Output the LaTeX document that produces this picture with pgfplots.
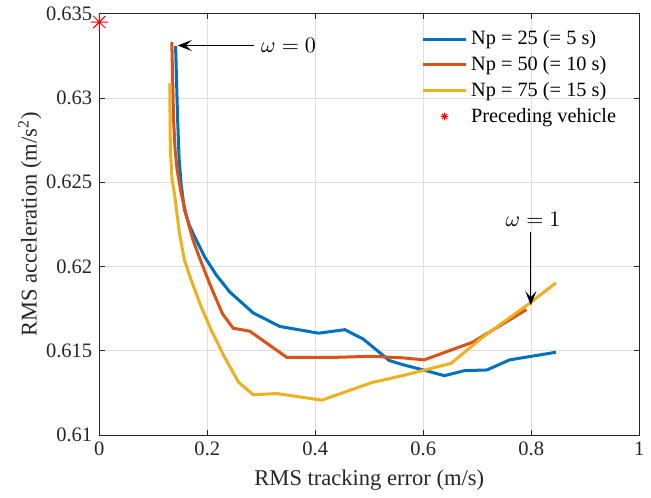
\documentclass[border=0pt]{standalone}
\usepackage{fontspec}
\setmainfont{Liberation Serif}
\usepackage{pgfplots}
\pgfplotsset{compat=1.18}
\usetikzlibrary{arrows.meta}
\definecolor{mblue}{HTML}{0072BD}
\definecolor{mred}{HTML}{D95319}
\definecolor{myellow}{HTML}{EDB120}
\definecolor{maxis}{HTML}{262626}
\definecolor{mgrid}{HTML}{DFDFDF}

% MATLAB-style 8-armed asterisk
\pgfdeclareplotmark{mstar}{%
  \pgfpathmoveto{\pgfqpoint{-\pgfplotmarksize}{0pt}}\pgfpathlineto{\pgfqpoint{\pgfplotmarksize}{0pt}}%
  \pgfpathmoveto{\pgfqpoint{0pt}{-\pgfplotmarksize}}\pgfpathlineto{\pgfqpoint{0pt}{\pgfplotmarksize}}%
  \pgfpathmoveto{\pgfqpoint{-.7071\pgfplotmarksize}{-.7071\pgfplotmarksize}}\pgfpathlineto{\pgfqpoint{.7071\pgfplotmarksize}{.7071\pgfplotmarksize}}%
  \pgfpathmoveto{\pgfqpoint{-.7071\pgfplotmarksize}{.7071\pgfplotmarksize}}\pgfpathlineto{\pgfqpoint{.7071\pgfplotmarksize}{-.7071\pgfplotmarksize}}%
  \pgfusepathqstroke}

\tikzset{annarrow/.style={-{Stealth[length=7pt,width=5.5pt,inset=3pt]}, line width=0.5pt}}

\begin{document}
\begin{tikzpicture}
  \begin{axis}[
      scale only axis,
      width=268.4pt, height=209.5pt,
      xmin=0, xmax=1, ymin=0.61, ymax=0.635,
      xtick={0,0.2,0.4,0.6,0.8,1},
      ytick={0.61,0.615,0.62,0.625,0.63,0.635},
      scaled x ticks=false, scaled y ticks=false,
      yticklabel style={/pgf/number format/fixed, /pgf/number format/precision=3},
      /pgf/number format/assume math mode=true,
      tick label style={font=\fontsize{10.2}{12}\selectfont, text=maxis},
      label style={font=\fontsize{11.2}{13}\selectfont, text=maxis},
      xlabel={RMS tracking error (m/s)},
      ylabel={RMS acceleration (m/s\textsuperscript{2})},
      ylabel style={yshift=-4.5pt},
      grid=major,
      grid style={mgrid, line width=0.4pt},
      axis line style={maxis, line width=0.4pt},
      tick style={maxis, line width=0.4pt},
      major tick length=2.7pt,
      tick align=inside,
      clip=false,
      every axis plot/.append style={line width=1.5pt},
      legend style={
        at={(0.593,0.975)}, anchor=north west,
        draw=none, fill=none,
        font=\fontsize{10.1}{12}\selectfont,
        row sep=0.3pt, inner sep=1pt,
      },
      legend cell align={left},
      legend image code/.code={\draw[#1] (0pt,0pt) -- (21pt,0pt);},
    ]
    % Np = 25
    \addplot[mblue] coordinates {
      (0.1412,0.63309) (0.1450,0.62873) (0.1478,0.62635) (0.1515,0.62486)
      (0.1576,0.62337) (0.1664,0.62247) (0.1763,0.62177) (0.1949,0.62058)
      (0.2167,0.61949) (0.2415,0.61849) (0.2851,0.61724) (0.3346,0.61644)
      (0.4062,0.61604) (0.4546,0.61625) (0.4882,0.61571) (0.5372,0.61442)
      (0.5614,0.61418) (0.6048,0.61382) (0.6391,0.61352) (0.6764,0.61382)
      (0.7179,0.61386) (0.7602,0.61446) (0.8459,0.61491)
    };
    % Np = 50
    \addplot[mred] coordinates {
      (0.1342,0.63333) (0.1375,0.62873) (0.1403,0.62695) (0.1440,0.62575)
      (0.1515,0.62436) (0.1608,0.62307) (0.1733,0.62158) (0.1887,0.62026)
      (0.2042,0.61899) (0.2279,0.61720) (0.2478,0.61634) (0.2787,0.61616)
      (0.3471,0.61461) (0.4371,0.61461) (0.5055,0.61467) (0.5614,0.61458)
      (0.6018,0.61446) (0.6918,0.61551) (0.7911,0.61744)
    };
    % Np = 75
    \addplot[myellow] coordinates {
      (0.1304,0.63087) (0.1315,0.62695) (0.1347,0.62516) (0.1390,0.62436)
      (0.1483,0.62198) (0.1576,0.62038) (0.1701,0.61919) (0.1888,0.61760)
      (0.2074,0.61621) (0.2322,0.61461) (0.2582,0.61312) (0.2851,0.61239)
      (0.3285,0.61246) (0.4123,0.61207) (0.5055,0.61312) (0.5614,0.61352)
      (0.6514,0.61425) (0.7104,0.61581) (0.7975,0.61783) (0.8459,0.61903)
    };
    % preceding vehicle
    \addplot[red, only marks, mark=mstar, mark size=4.3pt, line width=0.5pt,
      legend image code/.code={\draw[red, line width=0.5pt] plot[mark=mstar, mark size=1.9pt] coordinates {(10.5pt,0pt)};}]
      coordinates {(0,0.6345)};
    \legend{Np = 25 (= 5 s), Np = 50 (= 10 s), Np = 75 (= 15 s), Preceding vehicle}

    % annotations
    \draw[annarrow] (axis cs:0.2870,0.63311) -- (axis cs:0.1453,0.63311);
    \node[anchor=west, inner sep=0pt, font=\fontsize{10.5}{12}\selectfont]
      at (axis cs:0.2990,0.63311) {$\omega = 0$};
    \draw[annarrow] (axis cs:0.7993,0.62207) -- (axis cs:0.7993,0.61770);
    \node[anchor=base, inner sep=0pt, font=\fontsize{10.5}{12}\selectfont]
      at (axis cs:0.8035,0.62237) {$\omega = 1$};
    % keep the left margin of the original figure
    \path (rel axis cs:0,0) ++(-49.4pt,0pt);
  \end{axis}
\end{tikzpicture}
\end{document}
